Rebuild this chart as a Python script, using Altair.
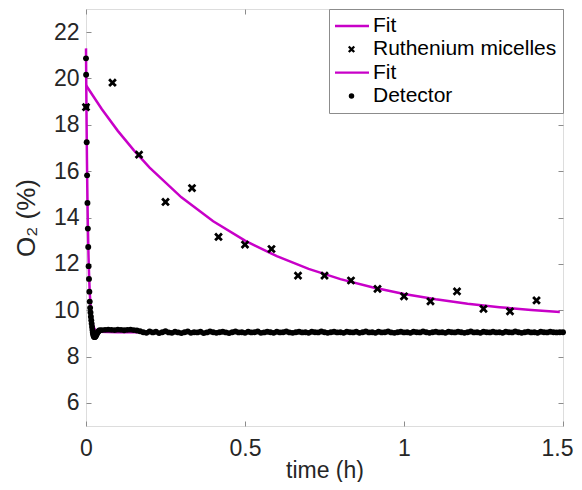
import altair as alt
import pandas as pd

# ---------------- data ----------------
x_ticks = [0, 0.5, 1, 1.5]
y_ticks = [6, 8, 10, 12, 14, 16, 18, 20, 22]

series_names = ["Fit", "Ruthenium micelles", "Fit ", "Detector"]
series_colors = ["#C800C8", "black", "#C800C8", "black"]

# Ruthenium micelles measurements (time in h, O2 in %)
rut_t = [0.0, 0.0833, 0.1667, 0.25, 0.3333, 0.4167, 0.5, 0.5833, 0.6667,
         0.75, 0.8333, 0.9167, 1.0, 1.0833, 1.1667, 1.25, 1.3333, 1.4167]
rut_o2 = [18.76, 19.82, 16.71, 14.67, 15.27, 13.16, 12.83, 12.64, 11.49,
          11.49, 11.28, 10.92, 10.60, 10.38, 10.81, 10.06, 9.95, 10.42]

# Fit through the ruthenium points
rut_fit_t = [0.0, 0.05, 0.1, 0.15, 0.2, 0.3, 0.4, 0.5, 0.6, 0.7, 0.8, 0.9,
             1.0, 1.1, 1.2, 1.3, 1.4, 1.49]
rut_fit_o2 = [19.71, 18.67, 17.74, 16.91, 16.15, 14.87, 13.84, 13.00, 12.33,
              11.78, 11.34, 10.99, 10.70, 10.47, 10.28, 10.13, 10.01, 9.92]

# Fit through the detector points
det_fit_t = [0.0, 0.001, 0.002, 0.003, 0.004, 0.005, 0.006, 0.008, 0.010,
             0.012, 0.015, 0.018, 0.022, 0.026, 0.030, 0.040, 0.100, 1.49]
det_fit_o2 = [21.30, 19.42, 17.83, 16.48, 15.34, 14.37, 13.56, 12.28, 11.36,
              10.71, 10.06, 9.66, 9.36, 9.21, 9.13, 9.07, 9.05, 9.05]

# Detector readings: fast drop, small undershoot, then plateau
det_t_drop = [0.0, 0.0004, 0.0010, 0.0022, 0.0034, 0.0046, 0.0058, 0.0070,
              0.0082, 0.0094, 0.0106, 0.0118, 0.0130, 0.0142, 0.0154, 0.0166,
              0.0178, 0.0190, 0.0202, 0.0214, 0.0226, 0.0238, 0.0250, 0.0262,
              0.0274, 0.0286, 0.0298, 0.0310, 0.0325, 0.0340, 0.0360, 0.0380,
              0.0400, 0.0430]
det_o2_drop = [20.87, 20.16, 18.78, 17.25, 15.82, 14.63, 13.52, 12.73,
               11.90, 11.35, 10.80, 10.37, 10.10, 9.90, 9.72, 9.56,
               9.42, 9.28, 9.15, 9.04, 8.96, 8.90, 8.86, 8.84,
               8.84, 8.85, 8.87, 8.90, 8.94, 8.98, 9.03, 9.07,
               9.10, 9.13]

det_t_plateau = [
    0.05, 0.06, 0.07, 0.08, 0.09, 0.10, 0.11, 0.12, 0.13, 0.14, 0.15, 0.16, 0.17,
    0.18, 0.19, 0.20, 0.21, 0.22, 0.23, 0.24, 0.25, 0.26, 0.27,
    0.28, 0.29, 0.30, 0.31, 0.32, 0.33, 0.34, 0.35, 0.36, 0.37,
    0.38, 0.39, 0.40, 0.41, 0.42, 0.43, 0.44, 0.45, 0.46, 0.47,
    0.48, 0.49, 0.50, 0.51, 0.52, 0.53, 0.54, 0.55, 0.56, 0.57,
    0.58, 0.59, 0.60, 0.61, 0.62, 0.63, 0.64, 0.65, 0.66, 0.67,
    0.68, 0.69, 0.70, 0.71, 0.72, 0.73, 0.74, 0.75, 0.76, 0.77,
    0.78, 0.79, 0.80, 0.81, 0.82, 0.83, 0.84, 0.85, 0.86, 0.87,
    0.88, 0.89, 0.90, 0.91, 0.92, 0.93, 0.94, 0.95, 0.96, 0.97,
    0.98, 0.99, 1.00, 1.01, 1.02, 1.03, 1.04, 1.05, 1.06, 1.07,
    1.08, 1.09, 1.10, 1.11, 1.12, 1.13, 1.14, 1.15, 1.16, 1.17,
    1.18, 1.19, 1.20, 1.21, 1.22, 1.23, 1.24, 1.25, 1.26, 1.27,
    1.28, 1.29, 1.30, 1.31, 1.32, 1.33, 1.34, 1.35, 1.36, 1.37,
    1.38, 1.39, 1.40, 1.41, 1.42, 1.43, 1.44, 1.45, 1.46, 1.47,
    1.48, 1.49, 1.50]
det_o2_plateau = [
    9.14, 9.15, 9.16, 9.15, 9.14, 9.16, 9.15, 9.13, 9.15, 9.16, 9.14, 9.12, 9.09,
    9.05, 9.02, 9.08, 9.04, 9.07, 9.01, 9.05, 9.09, 9.04, 9.02,
    9.07, 9.04, 9.01, 9.05, 9.08, 9.02, 9.05, 9.04, 9.07, 9.01,
    9.04, 9.08, 9.05, 9.02, 9.05, 9.07, 9.04, 9.01, 9.05, 9.08,
    9.04, 9.05, 9.02, 9.07, 9.04, 9.05, 9.08, 9.02, 9.04, 9.07,
    9.05, 9.02, 9.07, 9.04, 9.05, 9.08, 9.04, 9.02, 9.05, 9.07,
    9.04, 9.05, 9.02, 9.07, 9.05, 9.04, 9.08, 9.05, 9.02, 9.05,
    9.07, 9.04, 9.05, 9.02, 9.07, 9.05, 9.04, 9.07, 9.02, 9.05,
    9.08, 9.04, 9.05, 9.02, 9.07, 9.04, 9.05, 9.08, 9.04, 9.02,
    9.05, 9.07, 9.04, 9.05, 9.02, 9.07, 9.05, 9.04, 9.08, 9.05,
    9.02, 9.05, 9.07, 9.04, 9.05, 9.02, 9.07, 9.05, 9.04, 9.07,
    9.05, 9.02, 9.05, 9.08, 9.04, 9.05, 9.02, 9.07, 9.05, 9.04,
    9.07, 9.04, 9.05, 9.02, 9.07, 9.05, 9.04, 9.08, 9.05, 9.02,
    9.05, 9.07, 9.04, 9.05, 9.02, 9.07, 9.05, 9.04, 9.07, 9.05,
    9.04, 9.05, 9.05]

# ---------------- tables ----------------
fits = pd.DataFrame({
    "t": rut_fit_t + det_fit_t,
    "o2": rut_fit_o2 + det_fit_o2,
    "series": [series_names[0]] * len(rut_fit_t) + [series_names[2]] * len(det_fit_t),
})
rut = pd.DataFrame({"t": rut_t, "o2": rut_o2, "series": series_names[1]})
det = pd.DataFrame({"t": det_t_drop + det_t_plateau,
                    "o2": det_o2_drop + det_o2_plateau, "series": series_names[3]})

# ---------------- styling ----------------
W, H = 477, 417
FONT = "Liberation Sans"
AX_GRAY = "#8c8c8c"
TXT = "#262626"
MAG = series_colors[0]

# bold "x" marker and a short bar used as the line sample in the legend
X_PATH = ("M-1,-0.55L-0.55,-1L0,-0.45L0.55,-1L1,-0.55L0.45,0L1,0.55L0.55,1"
          "L0,0.45L-0.55,1L-1,0.55L-0.45,0Z")
BAR_PATH = "M-1,-0.07L1,-0.07L1,0.07L-1,0.07Z"

xs = alt.Scale(domain=[0, 1.5], nice=False, zero=False)
ys = alt.Scale(domain=[5, 23], nice=False, zero=False)
cs = alt.Scale(domain=series_names, range=series_colors)


def tick_axis(orient, offset, values):
    return alt.Axis(orient=orient, offset=offset, values=values, labels=False,
                    title=None, domain=False, grid=False, ticks=True,
                    tickSize=5, tickColor=AX_GRAY, tickWidth=1)


legend = alt.Legend(
    title=None, orient="top-right", offset=0, padding=6,
    strokeColor=AX_GRAY, fillColor="white", cornerRadius=0,
    labelFont=FONT, labelFontSize=21, labelColor="black", labelLimit=400,
    symbolType={"expr": "datum.value === 'Detector' ? 'circle' : "
                        "datum.value === 'Ruthenium micelles' ? '" + X_PATH + "' : '"
                        + BAR_PATH + "'"},
    symbolSize={"expr": "datum.value === 'Detector' ? 30 : "
                        "datum.value === 'Ruthenium micelles' ? 50 : 1225"},
    symbolStrokeWidth=0, symbolOpacity=1,
    symbolOffset=-1, labelOffset=4,
    clipHeight=22, rowPadding=1.3,
)

lines = alt.Chart(fits).mark_line(strokeWidth=2.5, color=MAG).encode(
    x=alt.X("t:Q", scale=xs, axis=alt.Axis(
        orient="bottom", values=x_ticks, format="~g", title="time (h)",
        ticks=False, domain=False, grid=False, labelFlush=False,
        labelOffset={"condition": {"test": "datum.value === 1.5", "value": -6},
                     "value": 0},
        labelPadding=11, titleY=51, titleBaseline="alphabetic",
        labelFont=FONT, titleFont=FONT,
        labelFontSize=23, titleFontSize=23, labelColor=TXT, titleColor=TXT,
        titleFontWeight="normal")),
    y=alt.Y("o2:Q", scale=ys, axis=alt.Axis(
        orient="left", values=y_ticks, format="~g", title="O₂ (%)",
        ticks=False, domain=False, grid=False,
        labelPadding=7, titlePadding=14, labelFont=FONT, titleFont=FONT,
        labelFontSize=23, titleFontSize=26, labelColor=TXT, titleColor=TXT,
        titleFontWeight="normal")),
    detail="series:N",
)

det_pts = alt.Chart(det).mark_point(shape="circle", filled=True, size=35,
                                    opacity=1).encode(
    x=alt.X("t:Q", scale=xs, axis=tick_axis("top", -H, x_ticks)),
    y=alt.Y("o2:Q", scale=ys, axis=tick_axis("right", -W, y_ticks)),
    color=alt.Color("series:N", scale=cs, legend=legend),
)

rut_pts = alt.Chart(rut).mark_point(shape=X_PATH, filled=True, size=76,
                                    opacity=1).encode(
    x=alt.X("t:Q", scale=xs, axis=tick_axis("bottom", -H, x_ticks)),
    y=alt.Y("o2:Q", scale=ys, axis=tick_axis("left", -W, y_ticks)),
    color=alt.Color("series:N", scale=cs, legend=legend),
)

chart = alt.layer(lines, det_pts, rut_pts).resolve_axis(
    x="independent", y="independent"
).properties(
    width=W, height=H,
    autosize=alt.AutoSizeParams(type="none"),
    padding={"left": 78, "top": 1, "right": 11, "bottom": 56},
).configure_view(stroke=AX_GRAY, strokeWidth=1).configure(background="white")

chart.save("out.html", embed_options={"renderer": "svg", "actions": False})
